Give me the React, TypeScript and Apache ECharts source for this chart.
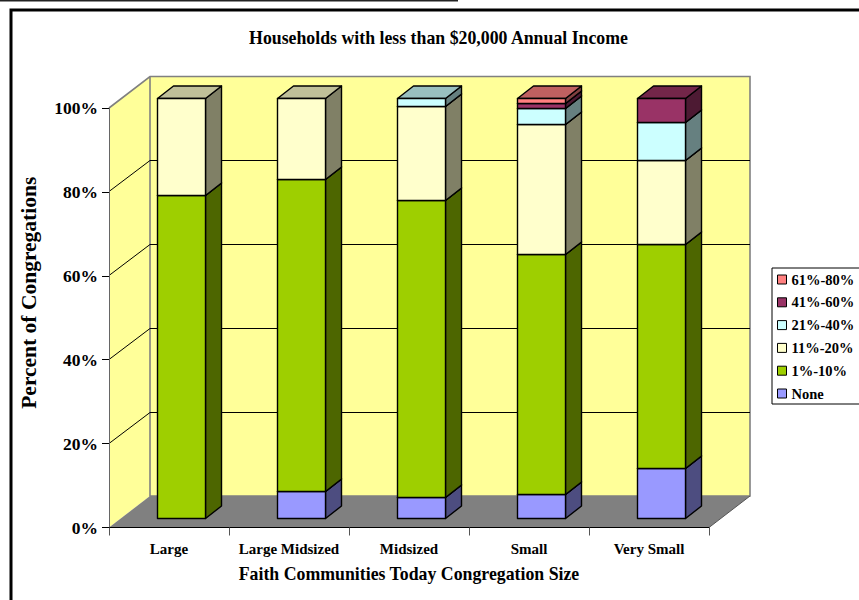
import React, { useEffect, useRef } from "react";
import * as echarts from "echarts";

const categories = ["Large", "Large Midsized", "Midsized", "Small", "Very Small"];
const none = [0, 6.4, 4.8, 5.7, 11.7];
const oneToTen = [76.8, 74.2, 71, 57.2, 53.4];
const elevenToTwenty = [23.2, 19.4, 22.4, 30.8, 20.2];
const twentyOneToForty = [0, 0, 1.8, 4, 8.9];
const fortyOneToSixty = [0, 0, 0, 1.1, 5.8];
const sixtyOneToEighty = [0, 0, 0, 1.2, 0];
const yTicks = [0, 20, 40, 60, 80, 100];

const stacks = [
  { name: "None", values: none, front: "#9999FF", side: "#4D4D80", top: "#7373BF" },
  { name: "1%-10%", values: oneToTen, front: "#9ECF00", side: "#4D6600", top: "#739900" },
  { name: "11%-20%", values: elevenToTwenty, front: "#FFFFCC", side: "#808066", top: "#BFBF99" },
  { name: "21%-40%", values: twentyOneToForty, front: "#CCFFFF", side: "#668080", top: "#99BFBF" },
  { name: "41%-60%", values: fortyOneToSixty, front: "#993366", side: "#4D1A33", top: "#732649" },
  { name: "61%-80%", values: sixtyOneToEighty, front: "#FF8080", side: "#804040", top: "#BF6060" },
];

const FONT = '"Liberation Serif", "Times New Roman", serif';
const WALL_DX = 41;
const WALL_DY = -31.5;
const BAR_DX = 12.5;
const BAR_DY = -9.5;
const DEPTH_DX = 16;
const DEPTH_DY = -12.5;
const snap = (v: number) => Math.round(v - 0.5) + 0.5;

function renderWall(params: any, api: any) {
  const v = api.value(0);
  const left = params.coordSys.x;
  const right = left + params.coordSys.width;
  const y = api.coord([0, v])[1];
  const children: any[] = [];
  const gray = "#808080";
  if (v === 0) {
    const top = api.coord([0, 100])[1];
    const pts = (a: number[][]) => ({ points: a });
    children.push({
      type: "polygon",
      shape: pts([[left, y], [left + WALL_DX, y + WALL_DY], [left + WALL_DX, top + WALL_DY], [left, top]]),
      style: { fill: "#FFFF99", stroke: "none" },
    });
    children.push({
      type: "rect",
      shape: { x: left + WALL_DX, y: top + WALL_DY, width: right - left, height: y - top },
      style: { fill: "#FFFF99", stroke: "none" },
    });
    children.push({
      type: "polygon",
      shape: pts([[left, y], [right, y], [right + WALL_DX, y + WALL_DY], [left + WALL_DX, y + WALL_DY]]),
      style: { fill: gray, stroke: "none" },
    });
    children.push({
      type: "polyline",
      shape: pts([[left, top], [left + WALL_DX, top + WALL_DY], [right + WALL_DX, top + WALL_DY], [right + WALL_DX, y + WALL_DY], [left + WALL_DX, y + WALL_DY], [left + WALL_DX, top + WALL_DY]]),
      style: { fill: "none", stroke: gray, lineWidth: 1.6 },
    });
    children.push({
      type: "line",
      shape: { x1: right + WALL_DX, y1: y + WALL_DY, x2: right, y2: y },
      style: { stroke: "#555", lineWidth: 1 },
    });
  } else if (v < 100) {
    const yb = snap(y + WALL_DY);
    children.push({
      type: "polyline",
      shape: { points: [[left, snap(y)], [left + WALL_DX, yb], [right + WALL_DX, yb]] },
      style: { fill: "none", stroke: "#000", lineWidth: 1 },
    });
  }
  return { type: "group", children };
}

function makeRenderBar(stackIndex: number) {
  const s = stacks[stackIndex];
  return (_params: any, api: any) => {
    const cat = api.value(0);
    const high = api.value(1);
    const val = api.value(2);
    if (!val) return { type: "group", children: [] };
    const low = high - val;
    const w = api.size([1, 0])[0] * 0.4;
    const c = api.coord([cat, low]);
    const t = api.coord([cat, high]);
    const x0 = c[0] - w / 2 + BAR_DX;
    const x1 = x0 + w;
    const yb = snap(c[1] + BAR_DY);
    const yt = snap(t[1] + BAR_DY);
    const line = { stroke: "#000", lineWidth: 1.4, lineJoin: "round" };
    return {
      type: "group",
      children: [
        {
          type: "polygon",
          shape: { points: [[x1, yb], [x1 + DEPTH_DX, yb + DEPTH_DY], [x1 + DEPTH_DX, yt + DEPTH_DY], [x1, yt]] },
          style: { fill: s.side, ...line },
        },
        {
          type: "polygon",
          shape: { points: [[x0, yt], [x1, yt], [x1 + DEPTH_DX, yt + DEPTH_DY], [x0 + DEPTH_DX, yt + DEPTH_DY]] },
          style: { fill: s.top, ...line },
        },
        {
          type: "rect",
          shape: { x: x0, y: yt, width: w, height: yb - yt },
          style: { fill: s.front, ...line },
        },
      ],
    };
  };
}

export default function App() {
  const ref = useRef<HTMLDivElement>(null);
  useEffect(() => {
    const chart = echarts.init(ref.current!, undefined, { renderer: "svg" });
    let running = categories.map(() => 0);
    const barSeries = stacks.map((s, i) => {
      running = running.map((r, k) => r + s.values[k]);
      const data = categories.map((_, k) => [k, running[k], s.values[k]]);
      return {
        type: "custom",
        name: s.name,
        data,
        renderItem: makeRenderBar(i),
        itemStyle: { color: s.front },
        encode: { x: 0, y: 1 },
        clip: false,
        z: 3,
      };
    });
    chart.setOption({
      animation: false,
      backgroundColor: "#fff",
      title: {
        text: "Households with less than $20,000 Annual Income",
        left: 433.5,
        top: 24,
        textAlign: "center",
        textStyle: { fontFamily: FONT, fontSize: 17.8, fontWeight: "bold", color: "#000" },
      },
      grid: { left: 109, top: 108, width: 600, height: 419.5, containLabel: false },
      legend: {
        orient: "vertical",
        left: 772,
        top: 268,
        padding: [4, 30, 3, 5],
        itemWidth: 9,
        itemHeight: 9,
        itemGap: 7.8,
        backgroundColor: "#fff",
        borderColor: "#000",
        borderWidth: 1,
        selectedMode: false,
        textStyle: { fontFamily: FONT, fontSize: 14.5, fontWeight: "bold", color: "#000" },
        data: [...stacks].reverse().map((s) => ({
          name: s.name,
          icon: "rect",
          itemStyle: { color: s.front, borderColor: "#000", borderWidth: 1 },
        })),
      },
      xAxis: {
        type: "category",
        data: categories,
        z: 2,
        name: "Faith Communities Today Congregation Size",
        nameLocation: "middle",
        nameGap: 37,
        nameTextStyle: { fontFamily: FONT, fontSize: 17.8, fontWeight: "bold", color: "#000" },
        axisLine: { show: true, lineStyle: { color: "#000", width: 1 } },
        axisTick: { show: true, length: 8, alignWithLabel: false, lineStyle: { color: "#555" } },
        axisLabel: { interval: 0, margin: 14, fontFamily: FONT, fontSize: 15, fontWeight: "bold", color: "#000" },
        splitLine: { show: false },
      },
      yAxis: {
        type: "value",
        min: 0,
        max: 100,
        interval: 20,
        z: 2,
        name: "Percent of Congregations",
        nameLocation: "middle",
        nameGap: 69,
        nameTextStyle: { fontFamily: FONT, fontSize: 21.5, fontWeight: "bold", color: "#000", padding: [0, 0, 0, 50] },
        axisLine: { show: true, lineStyle: { color: "#666", width: 1 } },
        axisTick: { show: true, length: 7, lineStyle: { color: "#000" } },
        axisLabel: { margin: 11, formatter: "{value}%", fontFamily: FONT, fontSize: 17.5, fontWeight: "bold", color: "#000" },
        splitLine: { show: false },
      },
      graphic: [
        {
          type: "polyline",
          shape: { points: [[11, 600], [11, 10], [859, 10]] },
          style: { fill: "none", stroke: "#000", lineWidth: 3 },
        },
        {
          type: "line",
          shape: { x1: 0, y1: 0.5, x2: 458, y2: 0.5 },
          style: { stroke: "#222", lineWidth: 2 },
        },
      ],
      series: [
        {
          type: "custom",
          data: yTicks.map((t) => [t]),
          renderItem: renderWall,
          encode: { y: 0 },
          clip: false,
          silent: true,
          z: 1,
        },
        ...barSeries,
      ],
    });
    return () => chart.dispose();
  }, []);
  return <div ref={ref} style={{ position: "absolute", left: 0, top: 0, width: 859, height: 600 }} />;
}
